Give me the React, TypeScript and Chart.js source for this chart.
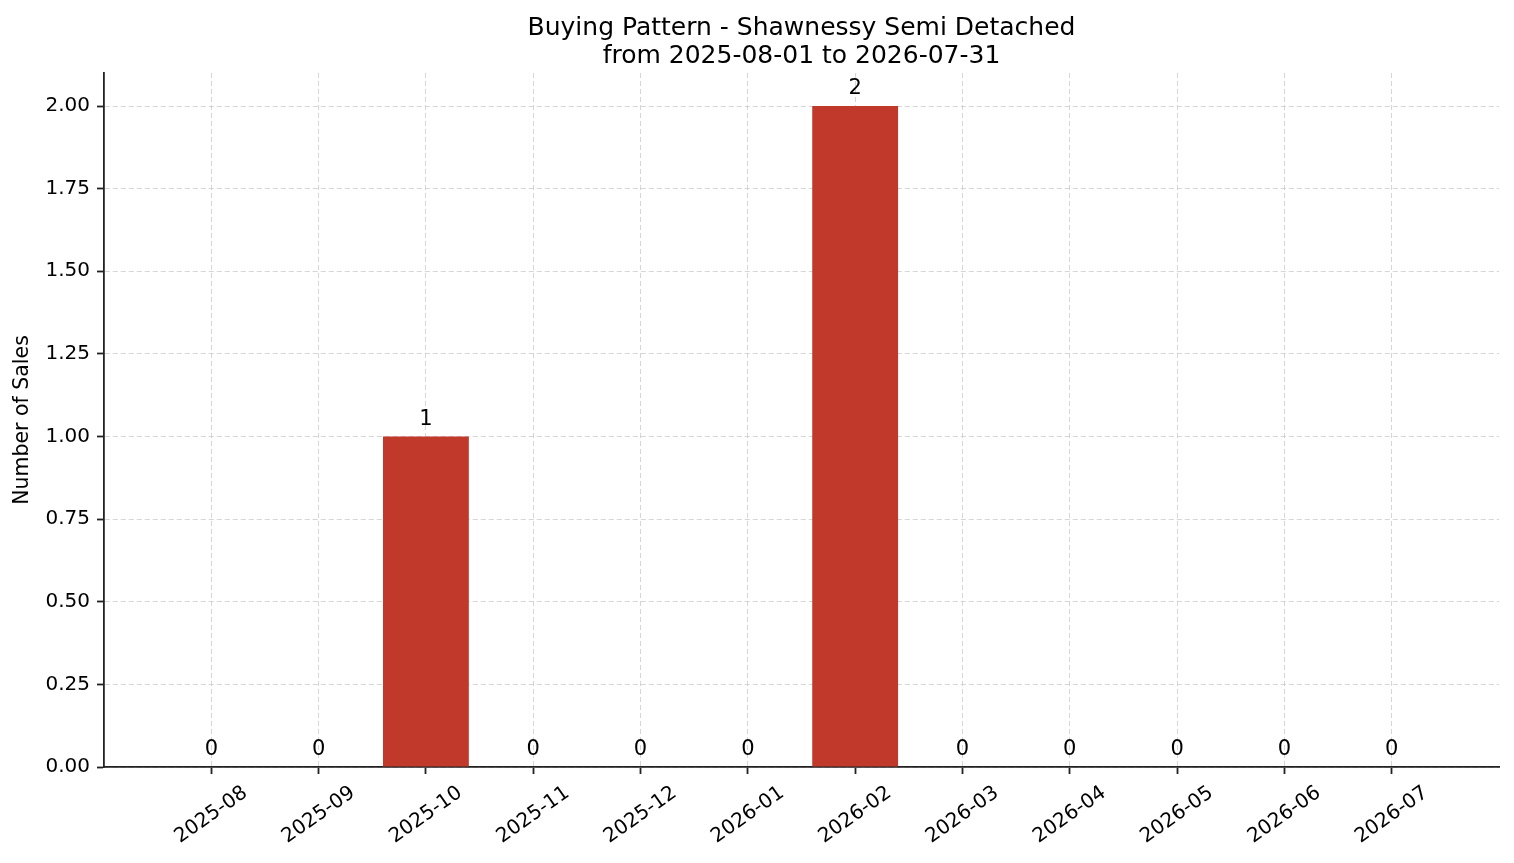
import { useEffect, useRef } from 'react';
import { Chart, registerables, Plugin } from 'chart.js';

Chart.register(...registerables);

const months = [
  '2025-08', '2025-09', '2025-10', '2025-11', '2025-12', '2026-01',
  '2026-02', '2026-03', '2026-04', '2026-05', '2026-06', '2026-07',
];
const sales = [0, 0, 1, 0, 0, 0, 2, 0, 0, 0, 0, 0];
const yTickValues = [0, 0.25, 0.5, 0.75, 1.0, 1.25, 1.5, 1.75, 2.0];
const titleLines = ['Buying Pattern - Shawnessy Semi Detached', 'from 2025-08-01 to 2026-07-31'];

const FONT = '"DejaVu Sans", sans-serif';
const BAR_COLOR = '#c0392b';

// numbers above each bar
const valueLabels: Plugin<'bar'> = {
  id: 'valueLabels',
  afterDraw(chart) {
    const ctx = chart.ctx;
    const meta = chart.getDatasetMeta(0);
    ctx.save();
    ctx.font = `21px ${FONT}`;
    ctx.fillStyle = '#000';
    ctx.textAlign = 'center';
    ctx.textBaseline = 'alphabetic';
    meta.data.forEach((el: any, i) => {
      ctx.fillText(String(sales[i]), el.x, el.y - 12);
    });
    ctx.restore();
  },
};

// rotated month labels centred under the ticks
const monthLabels: Plugin<'bar'> = {
  id: 'monthLabels',
  afterDraw(chart) {
    const ctx = chart.ctx;
    const xs = chart.scales.x;
    ctx.save();
    ctx.font = `20px ${FONT}`;
    ctx.fillStyle = '#000';
    ctx.textAlign = 'center';
    ctx.textBaseline = 'middle';
    months.forEach((m, i) => {
      ctx.save();
      ctx.translate(xs.getPixelForValue(i), xs.top + 48);
      ctx.rotate(-35 * Math.PI / 180);
      ctx.fillText(m, 0, 0);
      ctx.restore();
    });
    ctx.restore();
  },
};

export default function App() {
  const chartRef = useRef<HTMLCanvasElement>(null);
  const chartInstance = useRef<Chart | null>(null);

  useEffect(() => {
    document.body.style.margin = '0';
    if (!chartRef.current) return;
    const ctx = chartRef.current.getContext('2d');
    if (!ctx) return;

    if (chartInstance.current) {
      chartInstance.current.destroy();
    }

    chartInstance.current = new Chart(ctx, {
      type: 'bar',
      data: {
        datasets: [{
          label: 'Sales',
          data: sales.map((v, i) => ({ x: i, y: v })),
          backgroundColor: BAR_COLOR,
          barPercentage: 0.8,
          categoryPercentage: 1.0,
        }],
      },
      options: {
        animation: false,
        responsive: true,
        maintainAspectRatio: false,
        layout: { padding: { left: 0, right: 15, top: 0, bottom: 0 } },
        plugins: {
          legend: { display: false },
          tooltip: { enabled: false },
          title: {
            display: true,
            fullSize: false,
            text: titleLines,
            color: '#000',
            font: { family: FONT, size: 25, weight: 'normal', lineHeight: 1.12 },
            padding: { top: 14, bottom: 3 },
          },
        },
        scales: {
          x: {
            type: 'linear',
            min: -1,
            max: 12,
            offset: false,
            z: 1,
            afterBuildTicks: (scale) => {
              scale.ticks = months.map((_, i) => ({ value: i }));
            },
            afterFit: (scale) => {
              scale.height = 96;
            },
            ticks: { display: false },
            grid: {
              offset: false,
              color: 'rgba(200,200,200,0.75)',
              lineWidth: 1,
              tickLength: 7,
              tickColor: '#222',
              tickWidth: 1.8,
            },
            border: { display: true, color: '#222', width: 1.8, dash: [5, 3] },
          },
          y: {
            type: 'linear',
            min: 0,
            max: 2.1,
            z: 1,
            afterBuildTicks: (scale) => {
              scale.ticks = yTickValues.map((v) => ({ value: v }));
            },
            afterFit: (scale) => {
              scale.width = 104;
            },
            ticks: {
              color: '#000',
              font: { family: FONT, size: 20 },
              padding: 7,
              callback: (value) => Number(value).toFixed(2),
            },
            grid: {
              color: 'rgba(200,200,200,0.75)',
              lineWidth: 1,
              tickLength: 7,
              tickColor: '#222',
              tickWidth: 1.8,
            },
            border: { display: true, color: '#222', width: 1.8, dash: [5, 3] },
            title: {
              display: true,
              text: 'Number of Sales',
              color: '#000',
              font: { family: FONT, size: 20.5 },
              padding: { top: 10, bottom: 0 },
            },
          },
        },
      },
      plugins: [valueLabels, monthLabels],
    });

    return () => {
      if (chartInstance.current) {
        chartInstance.current.destroy();
        chartInstance.current = null;
      }
    };
  }, []);

  return (
    <div style={{ position: 'relative', width: '1514px', height: '863px', background: '#fff' }}>
      <canvas ref={chartRef}></canvas>
    </div>
  );
}
